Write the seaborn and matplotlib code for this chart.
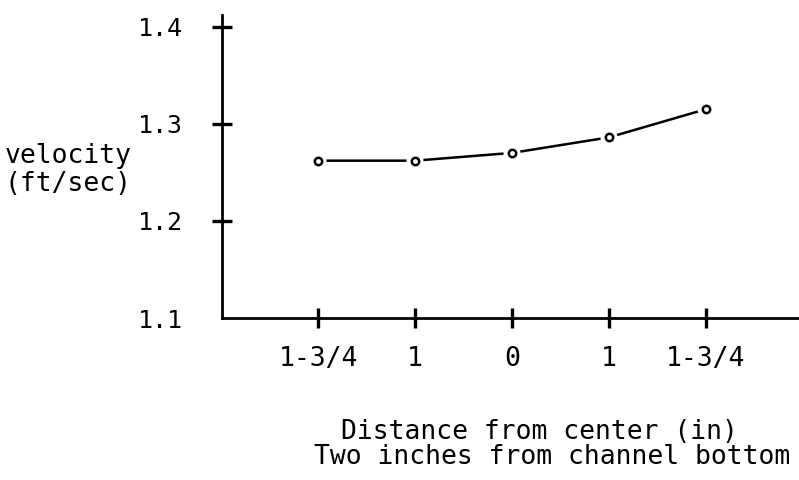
import matplotlib
matplotlib.use("Agg")
import matplotlib.pyplot as plt
import seaborn as sns
import pandas as pd

# Distance from channel centre (in), two inches above the bottom
positions = [0, 1, 2, 3, 4]
tick_labels = ["1-3/4", "1", "0", "1", "1-3/4"]
velocity = [1.262, 1.262, 1.270, 1.286, 1.315]
y_ticks = [1.1, 1.2, 1.3, 1.4]

df = pd.DataFrame({"pos": positions, "velocity": velocity})

sns.set_style("white")
plt.rcParams["font.family"] = ["DejaVu Sans Mono"]
plt.rcParams["text.color"] = "black"

fig = plt.figure(figsize=(7.99, 4.8), dpi=100)
ax = fig.add_axes([222 / 799, 1 - 318 / 480, 1 - 222 / 799, (318 - 15) / 480])

sns.lineplot(data=df, x="pos", y="velocity", ax=ax, color="black", lw=1.8, zorder=2)
# white halo so the line stops short of each point
sns.scatterplot(data=df, x="pos", y="velocity", ax=ax, s=150, color="white",
                edgecolor="none", zorder=3)
sns.scatterplot(data=df, x="pos", y="velocity", ax=ax, s=28, color="white",
                edgecolor="black", linewidth=1.8, zorder=4)

ax.set_xlim(-0.99, 4.96)
ax.set_ylim(1.1, 1.412)

ax.set_xticks(positions)
ax.set_xticklabels(tick_labels)
ax.set_yticks(y_ticks)
ax.set_yticklabels([f"{v:.1f}" for v in y_ticks])

for side in ("top", "right"):
    ax.spines[side].set_visible(False)
for side in ("left", "bottom"):
    ax.spines[side].set_linewidth(2)
    ax.spines[side].set_color("black")

ax.tick_params(axis="both", which="major", direction="inout", length=15,
               width=2.4, colors="black", bottom=True, left=True)
ax.tick_params(axis="x", pad=13, labelsize=19)
ax.tick_params(axis="y", pad=20.5, labelsize=18)
# the corner at 1.1 carries no cross mark
ax.yaxis.get_major_ticks()[0].tick1line.set_visible(False)

ax.set_xlabel("")
ax.set_ylabel("")

fig.text(5 / 799, 1 - 170 / 480, "velocity\n(ft/sec)", fontsize=19,
         ha="left", va="center", linespacing=1.1, color="black")
fig.text(539 / 799, 1 - 432 / 480, "Distance from center (in)", fontsize=19,
         ha="center", va="center", color="black")
fig.text(552 / 799, 1 - 457 / 480, "Two inches from channel bottom", fontsize=19,
         ha="center", va="center", color="black")

fig.savefig("out.png", dpi=100)
